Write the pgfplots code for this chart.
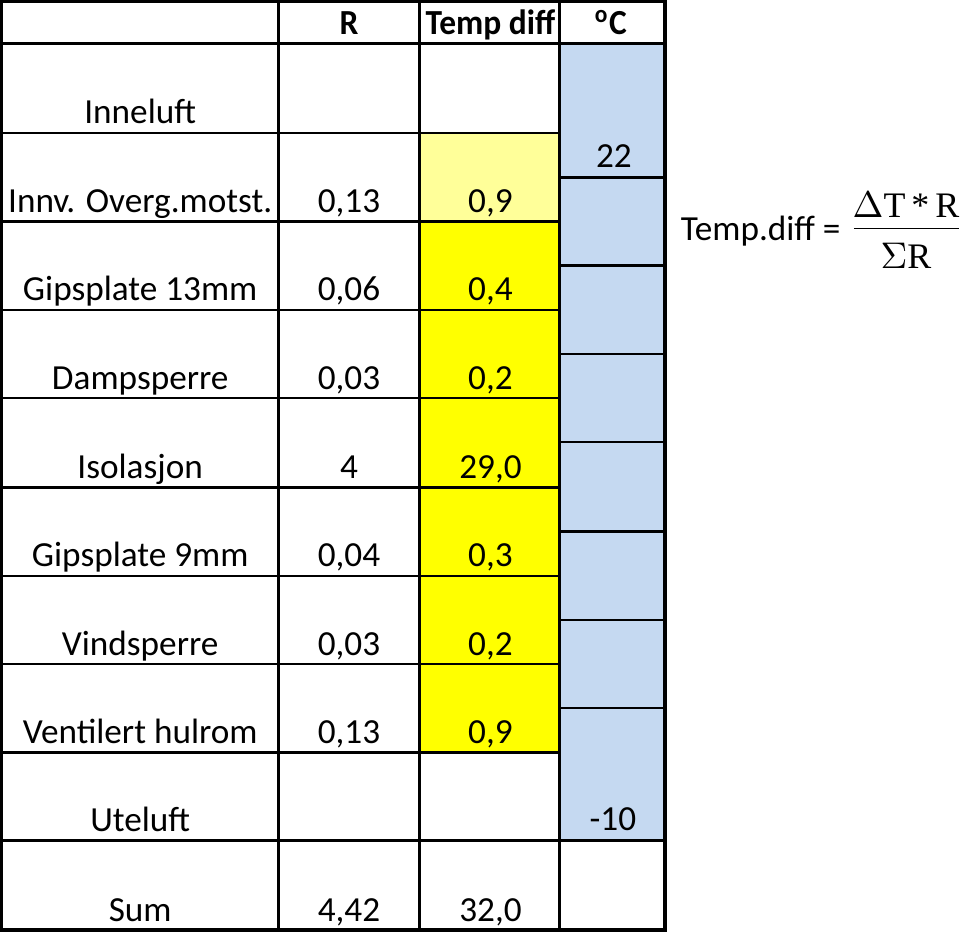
\documentclass[border=0pt]{standalone}
\usepackage{pgfplots}
\pgfplotsset{compat=1.18}
\usepackage{fontspec}
\setmainfont{Carlito}
\newfontfamily\formfont{Liberation Serif}
\definecolor{lyellow}{HTML}{FFFF99}
\definecolor{yel}{HTML}{FFFF00}
\definecolor{lblue}{HTML}{C5D9F1}

\begin{document}
\begin{tikzpicture}
\begin{axis}[
    width=10cm, height=9.698cm,
    scale only axis,
    hide axis,
    xmin=0, xmax=960,
    ymin=0, ymax=931,
    y dir=reverse,
    clip=false,
]
%% cell fills
\addplot[draw=none, fill=lblue] coordinates {(560,44)(665,44)(665,838)(560,838)} -- cycle;
\addplot[draw=none, fill=lyellow] coordinates {(420,133)(560,133)(560,221)(420,221)} -- cycle;
\addplot[draw=none, fill=yel] coordinates {(420,221)(560,221)(560,750)(420,750)} -- cycle;

%% horizontal rules across the whole table
\addplot[black, line width=0.8pt, line cap=rect] coordinates {(4,44)(665,44)};
\addplot[black, line width=0.8pt, line cap=rect] coordinates {(4,838)(665,838)};
%% row rules (first three columns)
\addplot[black, line width=0.7pt] coordinates {(4,133)(560,133)};
\addplot[black, line width=0.7pt] coordinates {(4,221)(560,221)};
\addplot[black, line width=0.7pt] coordinates {(4,309)(560,309)};
\addplot[black, line width=0.7pt] coordinates {(4,397)(560,397)};
\addplot[black, line width=0.7pt] coordinates {(4,486)(560,486)};
\addplot[black, line width=0.7pt] coordinates {(4,574)(560,574)};
\addplot[black, line width=0.7pt] coordinates {(4,662)(560,662)};
\addplot[black, line width=0.7pt] coordinates {(4,750)(560,750)};
%% rules in the temperature column
\addplot[black, line width=0.7pt] coordinates {(560,177)(665,177)};
\addplot[black, line width=0.7pt] coordinates {(560,265)(665,265)};
\addplot[black, line width=0.7pt] coordinates {(560,353)(665,353)};
\addplot[black, line width=0.7pt] coordinates {(560,441)(665,441)};
\addplot[black, line width=0.7pt] coordinates {(560,530)(665,530)};
\addplot[black, line width=0.7pt] coordinates {(560,618)(665,618)};
\addplot[black, line width=0.7pt] coordinates {(560,706)(665,706)};
%% column rules
\addplot[black, line width=0.8pt] coordinates {(280,2)(280,927)};
\addplot[black, line width=0.8pt] coordinates {(420,2)(420,927)};
\addplot[black, line width=0.8pt] coordinates {(560,2)(560,927)};
%% outer frame
\addplot[black, line width=1pt, line cap=rect] coordinates {(4,2)(665,2)(665,927)(4,927)} -- cycle;

%% header
\begin{scope}[every node/.style={anchor=base, inner sep=0pt, xscale=0.95, font=\fontsize{10.4}{12}\selectfont\bfseries}]
\node at (axis cs:350,35) {R};
\node at (axis cs:491,35) {Temp diff};
\node at (axis cs:611,35) {\textsuperscript{o}C};
\end{scope}

%% body
\begin{scope}[every node/.style={anchor=base, inner sep=0pt, font=\fontsize{10.4}{12}\selectfont}]
\node at (axis cs:142,123) {Inneluft};
\node at (axis cs:142,212) {Innv. Overg.motst.};
\node at (axis cs:142,300) {Gipsplate 13mm};
\node at (axis cs:142,388) {Dampsperre};
\node at (axis cs:142,477) {Isolasjon};
\node at (axis cs:142,565) {Gipsplate 9mm};
\node at (axis cs:142,653) {Vindsperre};
\node at (axis cs:142,741) {Ventilert hulrom};
\node at (axis cs:142,829) {Uteluft};
\node at (axis cs:142,918) {Sum};
%% R
\node at (axis cs:350,212) {0,13};
\node at (axis cs:350,300) {0,06};
\node at (axis cs:350,388) {0,03};
\node at (axis cs:350,477) {4};
\node at (axis cs:350,565) {0,04};
\node at (axis cs:350,653) {0,03};
\node at (axis cs:350,741) {0,13};
\node at (axis cs:350,918) {4,42};
%% Temp diff
\node at (axis cs:491,212) {0,9};
\node at (axis cs:491,300) {0,4};
\node at (axis cs:491,388) {0,2};
\node at (axis cs:491,477) {29,0};
\node at (axis cs:491,565) {0,3};
\node at (axis cs:491,653) {0,2};
\node at (axis cs:491,741) {0,9};
\node at (axis cs:491,918) {32,0};
%% degrees
\node at (axis cs:614,167) {22};
\node at (axis cs:613,828) {-10};
%% formula
\node[anchor=base west] at (axis cs:680,240) {Temp.diff =};
\end{scope}
\node[anchor=base, inner sep=0pt, font=\formfont\fontsize{10.6}{12}\selectfont] at (axis cs:905,217) {$\Delta$T\,*\,R};
\node[anchor=base, inner sep=0pt, font=\formfont\fontsize{10.6}{12}\selectfont] at (axis cs:905,268) {$\Sigma$R};
\addplot[black, line width=0.5pt] coordinates {(853,228)(958,228)};
\end{axis}
\end{tikzpicture}
\end{document}
